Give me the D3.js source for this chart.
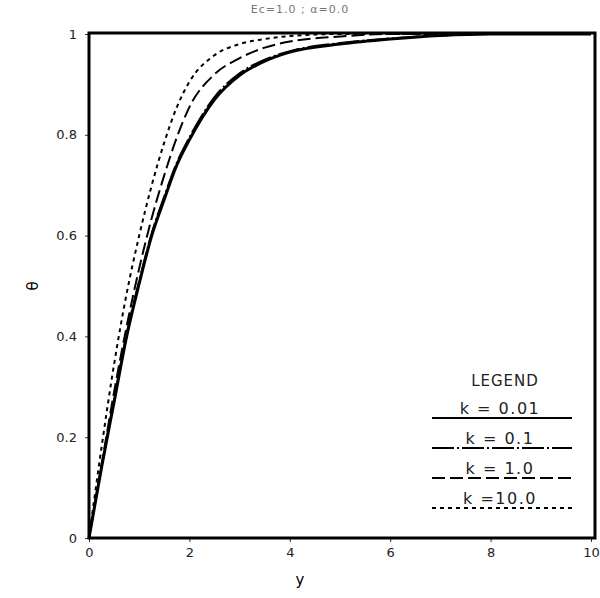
<!DOCTYPE html>
<html>
<head>
<meta charset="utf-8">
<script src="https://cdn.jsdelivr.net/npm/d3@7"></script>
<style>
  body { margin: 0; background: #fff; }
  svg text { font-family: "DejaVu Sans", sans-serif; }
</style>
</head>
<body>
<div id="chart"></div>
<script>
// data
const yGrid = [0, 0.25, 0.5, 0.75, 1.0, 1.25, 1.5, 1.75, 2.0, 2.5, 3.0, 3.5, 4.0, 5.0, 6.0, 7.0, 8.0, 10.0];
const theta001 = [0, 0.14, 0.27, 0.40, 0.505, 0.60, 0.672, 0.74, 0.79, 0.87, 0.918, 0.946, 0.964, 0.98, 0.99, 0.997, 1.0, 1.0];
const theta01  = [0, 0.142, 0.275, 0.405, 0.51, 0.605, 0.678, 0.745, 0.795, 0.875, 0.922, 0.949, 0.966, 0.982, 0.991, 0.997, 1.0, 1.0];
const theta1   = [0, 0.145, 0.29, 0.42, 0.535, 0.635, 0.72, 0.795, 0.855, 0.92, 0.952, 0.973, 0.985, 0.995, 1.0, 1.0, 1.0, 1.0];
const theta10  = [0, 0.18, 0.345, 0.485, 0.60, 0.70, 0.785, 0.855, 0.905, 0.958, 0.98, 0.99, 0.996, 1.0, 1.0, 1.0, 1.0, 1.0];

const seriesNames = ["k = 0.01", "k = 0.1", "k = 1.0", "k =10.0"];
const xTicks = [0, 2, 4, 6, 8, 10];
const yTicks = [0, 0.2, 0.4, 0.6, 0.8, 1];

const series = [
    { name: seriesNames[0], values: theta001, dash: null, width: 3 },
    { name: seriesNames[1], values: theta01, dash: "22,3,2,3", width: 2 },
    { name: seriesNames[2], values: theta1, dash: "13,5", width: 2 },
    { name: seriesNames[3], values: theta10, dash: "4,4", width: 2 }
];

const width = 600, height = 598;
const svg = d3.select("#chart").append("svg")
    .attr("width", width)
    .attr("height", height);

const x = d3.scaleLinear().domain([0, 10]).range([89, 591]);
const y = d3.scaleLinear().domain([0, 1]).range([538, 34]);

// title
svg.append("text")
    .attr("x", 300).attr("y", 13)
    .attr("text-anchor", "middle")
    .style("font-size", "11px")
    .style("letter-spacing", "1px")
    .style("fill", "#777")
    .text("Ec=1.0 ; α=0.0");

// axes
const xAxis = svg.append("g")
    .attr("transform", `translate(0,${y(0)})`)
    .call(d3.axisBottom(x).tickValues(xTicks).tickFormat(d3.format("d")).tickSize(4).tickPadding(6));
const yAxis = svg.append("g")
    .attr("transform", `translate(${x(0)},0)`)
    .call(d3.axisLeft(y).tickValues(yTicks).tickFormat(d => d === 0 || d === 1 ? d : d3.format(".1f")(d)).tickSize(4).tickPadding(8));

[xAxis, yAxis].forEach(g => {
    g.select(".domain").remove();
    g.selectAll("line").attr("stroke", "#333").attr("stroke-width", 1);
    g.selectAll("text").style("font-size", "13px").style("fill", "#222");
});

// frame
svg.append("rect")
    .attr("x", x(0)).attr("y", y(1) - 1)
    .attr("width", 595 - x(0)).attr("height", y(0) - y(1) + 1)
    .attr("fill", "none")
    .attr("stroke", "#000")
    .attr("stroke-width", 3);

// axis labels
svg.append("text")
    .attr("x", 300).attr("y", 585)
    .attr("text-anchor", "middle")
    .style("font-size", "15px")
    .text("y");

svg.append("text")
    .attr("transform", `translate(38,${(y(0) + y(1)) / 2}) rotate(-90)`)
    .attr("text-anchor", "middle")
    .style("font-size", "15px")
    .text("θ");

// curves
const line = d3.line()
    .x((d, i) => x(yGrid[i]))
    .y(d => y(d))
    .curve(d3.curveMonotoneX);

svg.selectAll(".curve")
    .data(series)
    .enter()
    .append("path")
    .attr("class", "curve")
    .attr("d", d => line(d.values))
    .attr("fill", "none")
    .attr("stroke", "#000")
    .attr("stroke-width", d => d.width)
    .attr("stroke-dasharray", d => d.dash);

// legend
const legend = svg.append("g").attr("transform", "translate(432,0)");
legend.append("text")
    .attr("x", 73).attr("y", 386)
    .attr("text-anchor", "middle")
    .style("font-size", "15px")
    .style("letter-spacing", "1px")
    .style("fill", "#222")
    .text("LEGEND");

const rows = legend.selectAll(".row")
    .data(series)
    .enter()
    .append("g")
    .attr("class", "row")
    .attr("transform", (d, i) => `translate(0,${418 + i * 30})`);

rows.append("text")
    .attr("x", 68).attr("y", -4)
    .attr("text-anchor", "middle")
    .style("font-size", "16px")
    .style("letter-spacing", "1.5px")
    .style("fill", "#222")
    .text(d => d.name);

rows.append("line")
    .attr("x1", 0).attr("x2", 140)
    .attr("stroke", "#000")
    .attr("stroke-width", 2)
    .attr("stroke-dasharray", d => d.dash);
</script>
</body>
</html>
